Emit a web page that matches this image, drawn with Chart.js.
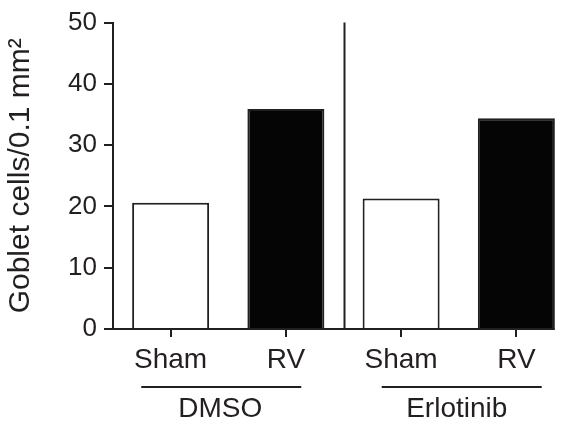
<!DOCTYPE html>
<html>
<head>
<meta charset="utf-8">
<script src="https://cdn.jsdelivr.net/npm/chart.js@4"></script>
<style>
  html, body { margin: 0; padding: 0; background: #fff; }
  #wrap { width: 574px; height: 427px; position: relative; }
</style>
</head>
<body>
<div id="wrap"><canvas id="gobletChart"></canvas></div>
<script>
var categories = ['Sham', 'RV', 'Sham', 'RV'];
var gobletCells = [20.6, 35.9, 21.3, 34.4];
var groups = ['DMSO', 'Erlotinib'];
var yTicks = [0, 10, 20, 30, 40, 50];

var ink = '#231f20';
var font = "'Liberation Sans', Arial, sans-serif";

// divider, baseline and group labels under the x axis
var groupPlugin = {
    id: 'groupPlugin',
    afterDraw: function (chart) {
        var ctx = chart.ctx;
        var area = chart.chartArea;
        var x = chart.scales.x;
        var bars = chart.getDatasetMeta(0).data;
        var last = bars[bars.length - 1];
        var lineShift = [-7, 3];
        var textShift = [-8, -2];

        ctx.save();
        ctx.strokeStyle = ink;
        ctx.lineWidth = 2;

        // x baseline
        ctx.beginPath();
        ctx.moveTo(area.left, area.bottom);
        ctx.lineTo(last.x + last.width / 2, area.bottom);
        ctx.stroke();

        // divider between the groups
        var mid = (x.getPixelForValue(1) + x.getPixelForValue(2)) / 2 + 1;
        ctx.beginPath();
        ctx.moveTo(mid, area.top);
        ctx.lineTo(mid, area.bottom);
        ctx.stroke();

        ctx.fillStyle = ink;
        ctx.font = '28px ' + font;
        ctx.textAlign = 'center';
        ctx.textBaseline = 'middle';
        for (var g = 0; g < groups.length; g++) {
            var c = (x.getPixelForValue(g * 2) + x.getPixelForValue(g * 2 + 1)) / 2;
            ctx.beginPath();
            ctx.moveTo(c + lineShift[g] - 80, 387);
            ctx.lineTo(c + lineShift[g] + 80, 387);
            ctx.stroke();
            ctx.fillText(groups[g], c + textShift[g], 409);
        }
        ctx.restore();
    }
};

var ctx = document.getElementById('gobletChart').getContext('2d');

var myChart = new Chart(ctx, {
    type: 'bar',
    data: {
        labels: categories,
        datasets: [{
            data: gobletCells,
            backgroundColor: ['#ffffff', '#050505', '#ffffff', '#050505'],
            borderColor: ink,
            borderWidth: 2,
            borderSkipped: 'bottom',
            categoryPercentage: 1,
            barPercentage: 0.668
        }]
    },
    options: {
        responsive: true,
        maintainAspectRatio: false,
        animation: false,
        layout: { padding: { top: 21, right: 0, left: 0, bottom: 0 } },
        plugins: {
            legend: { display: false },
            tooltip: { enabled: false }
        },
        scales: {
            x: {
                offset: true,
                afterFit: function (scale) { scale.height = 98; },
                border: { display: false },
                grid: {
                    offset: false,
                    drawOnChartArea: false,
                    drawTicks: true,
                    tickLength: 8,
                    color: ink,
                    lineWidth: 2
                },
                ticks: {
                    color: ink,
                    padding: 6,
                    maxRotation: 0,
                    font: { family: font, size: 28 }
                }
            },
            y: {
                min: 0,
                max: 50,
                afterFit: function (scale) { scale.width = 113; },
                afterBuildTicks: function (scale) {
                    scale.ticks = yTicks.map(function (v) { return { value: v }; });
                },
                border: { display: true, color: ink, width: 2 },
                grid: {
                    drawOnChartArea: false,
                    drawTicks: true,
                    tickLength: 9,
                    color: ink,
                    lineWidth: 2
                },
                ticks: {
                    color: ink,
                    padding: 7,
                    font: { family: font, size: 26 }
                },
                title: {
                    display: true,
                    text: 'Goblet cells/0.1 mm²',
                    color: ink,
                    padding: { top: 3, bottom: 0 },
                    font: { family: font, size: 30 }
                }
            }
        }
    },
    plugins: [groupPlugin]
});
</script>
</body>
</html>
